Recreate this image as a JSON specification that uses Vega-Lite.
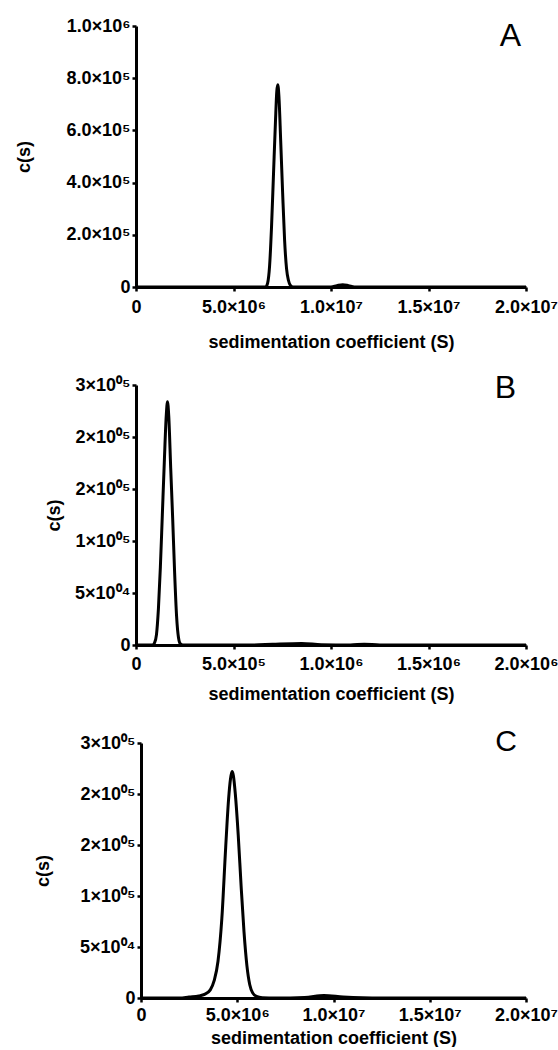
{
  "$schema": "https://vega.github.io/schema/vega-lite/v6.json",
  "padding": {"left": 14, "top": 17, "right": 0, "bottom": 0},
  "bounds": "flush",
  "spacing": 98,
  "background": "white",
  "config": {
    "view": {"stroke": null},
    "axis": {
      "domainColor": "black", "domainWidth": 3, "tickColor": "black", "tickWidth": 2.5, "tickSize": 4,
      "labelFont": "Liberation Sans", "labelFontWeight": "bold", "labelFontSize": 18, "labelColor": "black",
      "titleFont": "Liberation Sans", "titleFontWeight": "bold", "titleFontSize": 18, "titleColor": "black",
      "grid": false, "labelFlush": false, "labelOverlap": false, "labelPadding": 2
    },
    "title": {"font": "Liberation Sans", "fontWeight": "normal", "color": "black", "anchor": "end", "frame": "group"}
  },
  "datasets": {
    "a": [
      {"s": 0, "c": 0}, {"s": 6000000, "c": 0}, {"s": 6650000, "c": 0}, {"s": 6750000, "c": 15000},
      {"s": 6850000, "c": 80000}, {"s": 6950000, "c": 230000}, {"s": 7050000, "c": 430000},
      {"s": 7150000, "c": 630000}, {"s": 7220000, "c": 750000}, {"s": 7270000, "c": 775000},
      {"s": 7330000, "c": 730000}, {"s": 7420000, "c": 560000}, {"s": 7520000, "c": 360000},
      {"s": 7620000, "c": 180000}, {"s": 7720000, "c": 70000}, {"s": 7820000, "c": 25000},
      {"s": 7920000, "c": 6000}, {"s": 8050000, "c": 0}, {"s": 10000000, "c": 0},
      {"s": 10300000, "c": 5000}, {"s": 10600000, "c": 9000}, {"s": 10900000, "c": 5000},
      {"s": 11200000, "c": 0}, {"s": 20000000, "c": 0}
    ],
    "b": [
      {"s": 0, "c": 0}, {"s": 85000, "c": 0}, {"s": 95000, "c": 2000}, {"s": 105000, "c": 10000},
      {"s": 115000, "c": 35000}, {"s": 125000, "c": 75000}, {"s": 135000, "c": 125000},
      {"s": 145000, "c": 175000}, {"s": 155000, "c": 220000}, {"s": 161500, "c": 234000},
      {"s": 168000, "c": 220000}, {"s": 178000, "c": 170000}, {"s": 188000, "c": 122000},
      {"s": 198000, "c": 70000}, {"s": 208000, "c": 28000}, {"s": 218000, "c": 7000},
      {"s": 228000, "c": 1000}, {"s": 240000, "c": 0}, {"s": 600000, "c": 0},
      {"s": 700000, "c": 700}, {"s": 850000, "c": 1500}, {"s": 950000, "c": 300},
      {"s": 1100000, "c": 0}, {"s": 1170000, "c": 800}, {"s": 1250000, "c": 0}, {"s": 2000000, "c": 0}
    ],
    "c": [
      {"s": 0, "c": 0}, {"s": 2000000, "c": 0}, {"s": 2500000, "c": 1000}, {"s": 3000000, "c": 2000},
      {"s": 3300000, "c": 3500}, {"s": 3600000, "c": 8000}, {"s": 3800000, "c": 17000},
      {"s": 4000000, "c": 36000}, {"s": 4200000, "c": 78000}, {"s": 4400000, "c": 148000},
      {"s": 4550000, "c": 195000}, {"s": 4650000, "c": 215000}, {"s": 4730000, "c": 222000},
      {"s": 4800000, "c": 218000}, {"s": 4900000, "c": 200000}, {"s": 5050000, "c": 160000},
      {"s": 5200000, "c": 110000}, {"s": 5350000, "c": 65000}, {"s": 5500000, "c": 32000},
      {"s": 5650000, "c": 13000}, {"s": 5800000, "c": 5000}, {"s": 6000000, "c": 1500},
      {"s": 6300000, "c": 300}, {"s": 7000000, "c": 0}, {"s": 8500000, "c": 500},
      {"s": 9500000, "c": 2500}, {"s": 10500000, "c": 1000}, {"s": 11500000, "c": 200},
      {"s": 12500000, "c": 0}, {"s": 20000000, "c": 0}
    ]
  },
  "vconcat": [
    {
      "width": 390, "height": 261,
      "data": {"name": "a"},
      "title": {"text": "A", "offset": -36, "dx": -5, "fontSize": 32},
      "mark": {"type": "line", "color": "black", "strokeWidth": 3, "interpolate": "monotone"},
      "encoding": {
        "x": {"field": "s", "type": "quantitative",
          "scale": {"domain": [0, 20000000], "nice": false},
          "axis": {"title": "sedimentation coefficient (S)", "labelPadding": 7, "titlePadding": 17, "values": [0, 5000000, 10000000, 15000000, 20000000],
            "labelExpr": "datum.value == 0 ? '0' : datum.value >= 10000000 ? format(datum.value/10000000, '.1f') + '×10⁷' : format(datum.value/1000000, '.1f') + '×10⁶'"}},
        "y": {"field": "c", "type": "quantitative",
          "scale": {"domain": [0, 1000000], "nice": false},
          "axis": {"title": "c(s)", "titleX": -112, "titleBaseline": "middle", "values": [0, 200000, 400000, 600000, 800000, 1000000],
            "labelExpr": "datum.value == 0 ? '0' : datum.value >= 1000000 ? format(datum.value/1000000, '.1f') + '×10⁶' : format(datum.value/100000, '.1f') + '×10⁵'"}}
      }
    },
    {
      "width": 390, "height": 260,
      "data": {"name": "b"},
      "title": {"text": "B", "offset": -29, "dx": -10, "fontSize": 32},
      "mark": {"type": "line", "color": "black", "strokeWidth": 3, "interpolate": "monotone"},
      "encoding": {
        "x": {"field": "s", "type": "quantitative",
          "scale": {"domain": [0, 2000000], "nice": false},
          "axis": {"title": "sedimentation coefficient (S)", "labelPadding": 6, "titlePadding": 12, "values": [0, 500000, 1000000, 1500000, 2000000],
            "labelExpr": "datum.value == 0 ? '0' : datum.value >= 1000000 ? format(datum.value/1000000, '.1f') + '×10⁶' : format(datum.value/100000, '.1f') + '×10⁵'"}},
        "y": {"field": "c", "type": "quantitative",
          "scale": {"domain": [0, 250000], "nice": false},
          "axis": {"title": "c(s)", "titleX": -82, "titleBaseline": "middle", "values": [0, 50000, 100000, 150000, 200000, 250000],
            "labelExpr": "datum.value == 0 ? '0' : datum.value < 100000 ? format(datum.value/10000, '.0f') + '×10⁰⁴' : format(datum.value/100000, '.0f') + '×10⁰⁵'"}}
      }
    },
    {
      "width": 390, "height": 255,
      "data": {"name": "c"},
      "title": {"text": "C", "offset": -23, "dx": -9, "fontSize": 30},
      "mark": {"type": "line", "color": "black", "strokeWidth": 3, "interpolate": "monotone"},
      "encoding": {
        "x": {"field": "s", "type": "quantitative",
          "scale": {"domain": [0, 20000000], "nice": false, "range": [5, 390]},
          "axis": {"title": "sedimentation coefficient (S)", "labelPadding": 4, "titlePadding": 5, "values": [0, 5000000, 10000000, 15000000, 20000000],
            "labelExpr": "datum.value == 0 ? '0' : datum.value >= 10000000 ? format(datum.value/10000000, '.1f') + '×10⁷' : format(datum.value/1000000, '.1f') + '×10⁶'"}},
        "y": {"field": "c", "type": "quantitative",
          "scale": {"domain": [0, 250000], "nice": false},
          "axis": {"title": "c(s)", "offset": -5, "titleX": -98, "titleBaseline": "middle", "values": [0, 50000, 100000, 150000, 200000, 250000],
            "labelExpr": "datum.value == 0 ? '0' : datum.value < 100000 ? format(datum.value/10000, '.0f') + '×10⁰⁴' : format(datum.value/100000, '.0f') + '×10⁰⁵'"}}
      }
    }
  ]
}
